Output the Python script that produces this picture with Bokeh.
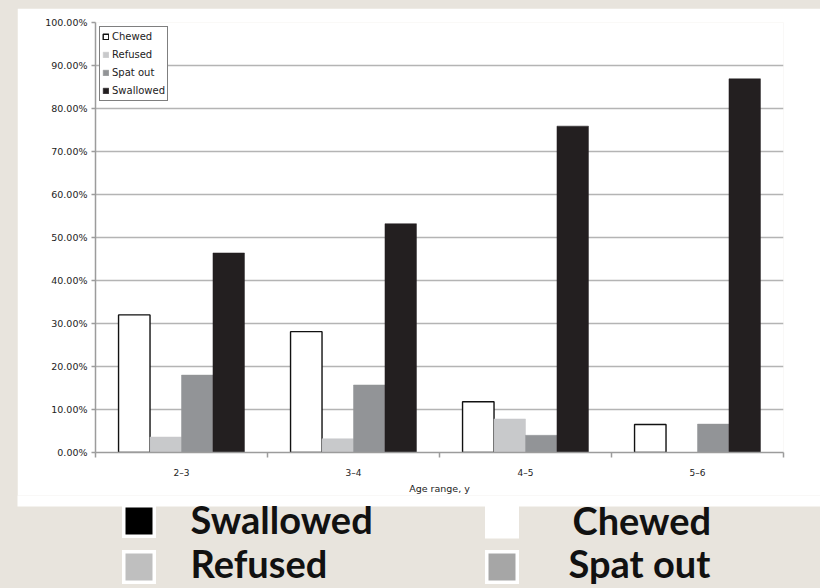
from bokeh.plotting import figure
from bokeh.models import (Range1d, FixedTicker, NumeralTickFormatter, Legend,
                          LegendItem, ColumnDataSource)
from bokeh.layouts import column
from bokeh.core.properties import value
from bokeh.embed import file_html
from bokeh.resources import INLINE
import numpy as np

# Share of children per outcome, by age range
age_ranges = ["2–3", "3–4", "4–5", "5–6"]
chewed = [0.320, 0.281, 0.118, 0.065]
refused = [0.036, 0.032, 0.078, 0.000]
spat_out = [0.180, 0.157, 0.040, 0.066]
swallowed = [0.464, 0.532, 0.759, 0.869]

series_names = ["Chewed", "Refused", "Spat out", "Swallowed"]
series_values = [chewed, refused, spat_out, swallowed]
series_fill = ["#ffffff", "#c8c9cb", "#929497", "#231f20"]
series_line = ["#111111", None, None, None]

y_ticks = [0.0, 0.1, 0.2, 0.3, 0.4, 0.5, 0.6, 0.7, 0.8, 0.9, 1.0]

PAGE_BG = "#e8e4dd"
GRID = "#b4b4b4"
AXIS = "#9c9c9c"
TXT = "#222222"
SMALL_FONT = "DejaVu Sans"

PANEL_SPLIT = 496   # page y where the chart figure ends and the key begins
PANEL_BOTTOM = 506  # page y where the white chart panel ends

n_cat = len(age_ranges)
centers = np.arange(n_cat) + 0.5
bar_w = 0.183

p = figure(width=803, height=PANEL_SPLIT - 8,
           x_range=Range1d(0, n_cat), y_range=Range1d(0, 1),
           output_backend="svg", toolbar_location=None,
           min_border_left=78, min_border_right=37,
           min_border_top=14, min_border_bottom=PANEL_SPLIT - 453,
           margin=(8, 0, 0, 17),
           border_fill_color="white", background_fill_color="white",
           outline_line_color=None)

renderers = []
for i, (name, vals) in enumerate(zip(series_names, series_values)):
    src = ColumnDataSource(dict(x=centers + (i - 1.5) * bar_w, top=vals))
    r = p.vbar(x="x", top="top", bottom=0, width=bar_w, source=src,
               fill_color=series_fill[i],
               line_color=series_line[i] if series_line[i] else series_fill[i],
               line_width=1.4 if series_line[i] else 0.5)
    renderers.append((name, r))

# grid
p.xgrid.visible = False
p.ygrid.ticker = FixedTicker(ticks=y_ticks)
p.ygrid.grid_line_color = GRID
p.ygrid.grid_line_width = 1.5

# y axis
ya = p.yaxis[0]
ya.ticker = FixedTicker(ticks=y_ticks)
ya.formatter = NumeralTickFormatter(format="0.00%")
ya.axis_line_color = AXIS
ya.axis_line_width = 1.5
ya.major_tick_line_color = AXIS
ya.major_tick_line_width = 1.5
ya.major_tick_out = 4
ya.major_tick_in = 0
ya.minor_tick_line_color = None
ya.major_label_text_font = SMALL_FONT
ya.major_label_text_font_size = "9.5px"
ya.major_label_text_color = TXT
ya.major_label_standoff = 4

# x axis: labels at group centres, tick marks at group boundaries
xa = p.xaxis[0]
xa.ticker = FixedTicker(ticks=list(centers), minor_ticks=list(range(n_cat + 1)))
xa.major_label_overrides = {float(c): lab for c, lab in zip(centers, age_ranges)}
xa.major_tick_out = 0
xa.major_tick_in = 0
xa.minor_tick_out = 5
xa.minor_tick_in = 0
xa.minor_tick_line_color = AXIS
xa.minor_tick_line_width = 1.5
xa.axis_line_color = AXIS
xa.axis_line_width = 1.5
xa.major_label_text_font = SMALL_FONT
xa.major_label_text_font_size = "9px"
xa.major_label_text_color = TXT
xa.major_label_standoff = 10
xa.axis_label = "Age range, y"
xa.axis_label_text_font = SMALL_FONT
xa.axis_label_text_font_size = "9.5px"
xa.axis_label_text_font_style = "normal"
xa.axis_label_text_color = TXT
xa.axis_label_standoff = 2

legend = Legend(items=[LegendItem(label=n, renderers=[r]) for n, r in renderers],
                location="top_left", margin=4, padding=2, spacing=3,
                label_height=15, glyph_width=7, glyph_height=7,
                label_standoff=3,
                border_line_color="black", border_line_width=1.2,
                background_fill_color="white", background_fill_alpha=1,
                label_text_font=SMALL_FONT, label_text_font_size="10px",
                label_text_color=TXT)
p.add_layout(legend)

# large key underneath the chart panel; its data coordinates are page pixels
key_names = ["Swallowed", "Refused", "Chewed", "Spat out"]
key_fill = ["#000000", "#bfbfbf", "#ffffff", "#a6a6a6"]
key_sq_x = [138.5, 138.5, 501.5, 501.5]
key_sq_y = [520.5, 566.5, 521, 566.5]
key_txt_x = [190, 190, 572, 568]
key_txt_y = [518, 562, 519, 562]

KEY_TOP = PANEL_SPLIT - 1   # overlap the chart figure by one pixel

k = figure(width=820, height=588 - KEY_TOP,
           x_range=Range1d(0, 820), y_range=Range1d(588, KEY_TOP),
           output_backend="svg", toolbar_location=None,
           x_axis_type=None, y_axis_type=None, min_border=0,
           frame_align=False, margin=(-1, 0, 0, 0),
           border_fill_color=PAGE_BG, background_fill_color=PAGE_BG,
           outline_line_color=None)
k.grid.visible = False
# lower edge of the white chart panel
k.quad(left=[17], right=[822], top=[KEY_TOP - 3], bottom=[PANEL_BOTTOM],
       fill_color="white", line_color=None)
k.rect(x=key_sq_x, y=key_sq_y, width=34, height=34,
       fill_color="white", line_color=None)
k.rect(x=key_sq_x, y=key_sq_y, width=27, height=27,
       fill_color=key_fill, line_color=None)
k.text(x=key_txt_x, y=key_txt_y, text=key_names,
       text_font=value("Lato"), text_font_style="bold",
       text_font_size="38px", text_color="#111111",
       text_baseline="alphabetic", text_align="left")

page = column(p, k, spacing=0, styles={"background-color": PAGE_BG})

open("out.html", "w").write(file_html(page, INLINE))
